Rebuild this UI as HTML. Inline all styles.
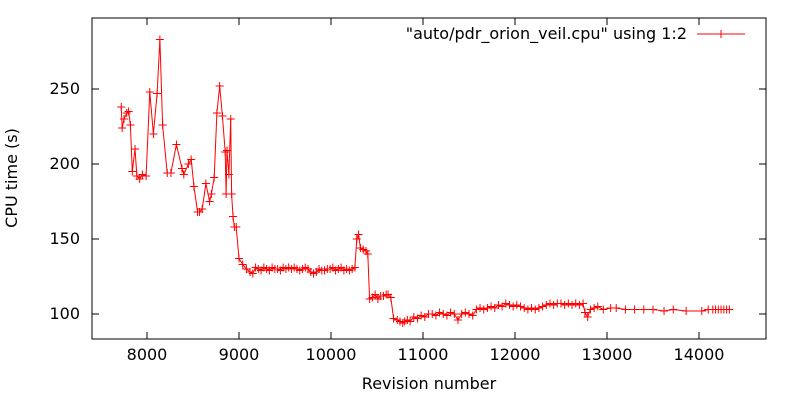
<!DOCTYPE html>
<html><head><meta charset="utf-8"><style>
body{margin:0;background:#fff}
svg text{font-family:"DejaVu Sans","Liberation Sans",sans-serif;font-size:16px;fill:#000}
</style></head><body>
<svg id="chart" width="800" height="400" xmlns="http://www.w3.org/2000/svg">
<rect x="92" y="18" width="674" height="321" fill="none" stroke="#000" stroke-width="1"/>
<g id="axes"></g>
<g id="series"></g>
<text x="429" y="389" text-anchor="middle">Revision number</text>
<text transform="translate(17,178) rotate(-90)" text-anchor="middle">CPU time (s)</text>
<g>
<text x="687" y="39" text-anchor="end">"auto/pdr_orion_veil.cpu" using 1:2</text>
<line x1="697" y1="34" x2="745" y2="34" stroke="#f00" stroke-width="1"/>
<path d="M717 34h8M721 30v8" stroke="#f00" stroke-width="1"/>
</g>
</svg>
<script>
const revisions=[7720,7730,7750,7780,7800,7820,7840,7870,7890,7920,7950,7990,8030,8070,8110,8140,8170,8220,8260,8320,8380,8400,8450,8480,8510,8550,8570,8600,8640,8680,8700,8730,8760,8790,8820,8850,8860,8870,8890,8910,8920,8935,8950,8970,9000,9040,9080,9120,9150,9180,9210,9240,9270,9300,9330,9360,9390,9420,9450,9480,9510,9540,9570,9600,9630,9660,9690,9720,9750,9780,9810,9840,9870,9900,9930,9960,9990,10020,10050,10080,10110,10140,10170,10200,10230,10260,10280,10300,10320,10350,10380,10400,10420,10450,10480,10510,10540,10570,10600,10620,10650,10680,10720,10750,10780,10800,10830,10860,10900,10940,10980,11020,11060,11100,11140,11180,11220,11260,11300,11340,11380,11420,11460,11500,11540,11580,11620,11660,11700,11740,11780,11820,11860,11900,11940,11980,12020,12060,12100,12140,12180,12220,12260,12300,12340,12380,12420,12460,12500,12540,12580,12620,12660,12700,12740,12760,12790,12820,12860,12900,12960,13040,13100,13200,13300,13400,13500,13620,13720,13860,14030,14100,14150,14180,14210,14240,14270,14300,14330];
const cpuTimes=[238,224,230,234,235,226,195,210,192,190,193,192,248,220,247,283,226,194,194,213,197,193,200,203,185,168,168,170,187,175,180,191,234,252,232,208,180,209,193,230,180,165,158,158,137,133,130,128,127,131,130,129,131,130,129,131,130,130,129,131,130,131,130,131,130,129,130,131,130,128,127,128,130,129,129,130,130,131,129,130,131,129,130,129,130,131,150,153,144,143,142,140,110,111,113,110,112,112,113,113,111,97,96,95,94,95,96,95,98,97,99,98,100,100,99,101,100,99,101,100,96,100,101,100,99,103,104,103,104,105,104,106,105,107,106,105,106,105,104,103,104,103,104,105,106,107,106,107,107,106,107,106,107,106,107,101,98,103,104,105,103,104,104,103,103,103,103,102,103,102,102,103,103,103,103,103,103,103,103];
const xTicks=[8000,9000,10000,11000,12000,13000,14000];
const yTicks=[100,150,200,250];
const X=v=>147+(v-8000)*0.092;
const Y=v=>314-(v-100)*1.5;
const NS='http://www.w3.org/2000/svg';
const axes=document.getElementById('axes');
function mk(t,a,p){const e=document.createElementNS(NS,t);for(const k in a)e.setAttribute(k,a[k]);p.appendChild(e);return e;}
xTicks.forEach(t=>{
 const x=X(t);
 const l=mk('path',{d:`M${x} 339v-7M${x} 18v7`,stroke:'#000','stroke-width':1},axes);
 
 
 const tx=mk('text',{x:x,y:360,'text-anchor':'middle'},axes);tx.textContent=t;
 
 
});
yTicks.forEach(t=>{
 const y=Y(t);
 const l=mk('path',{d:`M92 ${y}h7M766 ${y}h-7`,stroke:'#000','stroke-width':1},axes);
 
 
 const tx=mk('text',{x:80,y:y+5,'text-anchor':'end'},axes);tx.textContent=t;
 
 
});
const s=document.getElementById('series');
let d='';revisions.forEach((r,i)=>{d+=(i?'L':'M')+X(r).toFixed(1)+' '+Y(cpuTimes[i]).toFixed(1);});
const line=mk('path',{d:d,fill:'none',stroke:'#f00','stroke-width':1},s);


revisions.forEach((r,i)=>{
 const x=X(r),y=Y(cpuTimes[i]);
 const p=mk('path',{d:`M${x-4} ${y}h8M${x} ${y-4}v8`,stroke:'#f00','stroke-width':1},s);
 
 
});
</script>
</body></html>
